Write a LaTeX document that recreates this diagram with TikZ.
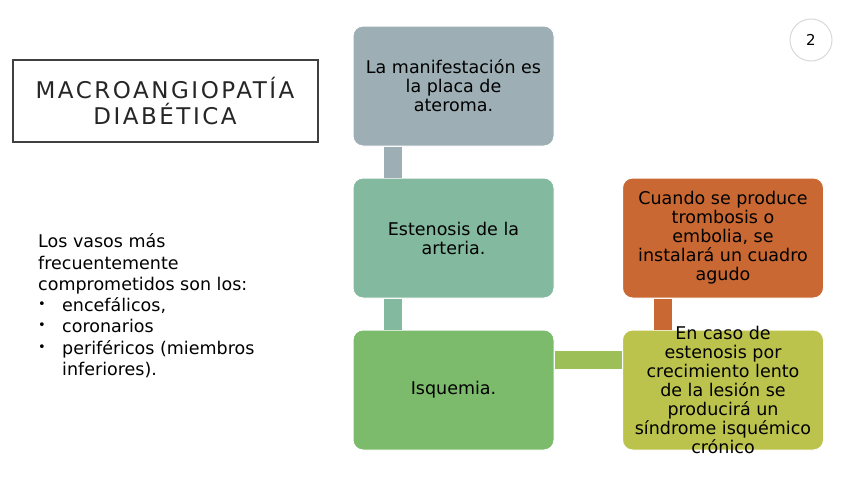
\documentclass[tikz,border=0pt]{standalone}
\usepackage{fontspec}
\setmainfont{DejaVu Sans}
\newfontfamily\titlefont[LetterSpace=11]{DejaVu Sans}
\usepackage{xcolor}
\usetikzlibrary{positioning,calc}
\definecolor{placagray}{HTML}{9DAFB5}
\definecolor{estenosisteal}{HTML}{83B99E}
\definecolor{isquemiagreen}{HTML}{7BBB6B}
\definecolor{cronicoolive}{HTML}{BCC34D}
\definecolor{agudoorange}{HTML}{C96832}
\definecolor{puentegreen}{HTML}{9DBF57}
\newcommand{\vasobullet}{\makebox[24pt][l]{\raisebox{3pt}{\fontsize{13}{13}\selectfont •}}}

\begin{document}
\begin{tikzpicture}[
  x=1pt,
  y=-1pt,
  stage/.style={rectangle,rounded corners=10pt,draw=white,line width=1pt,
    minimum width=201pt,minimum height=120pt,inner sep=0pt,align=center,
    font=\fontsize{17.5}{19}\selectfont},
  stagetxt/.style={inner sep=0pt,align=center,font=\fontsize{17.5}{19}\selectfont},
  link/.style={line width=18pt},
  bodytxt/.style={font=\fontsize{17.5}{21.3}\selectfont,align=left,inner sep=0pt}
]
  \useasboundingbox[fill=white] (0,0) rectangle (848,477);

  % title
  \node[draw=black!75,line width=2pt,minimum width=305pt,minimum height=82pt,
    align=center,font=\titlefont\fontsize{23}{26}\selectfont,text=black!85]
    (titulo) at (165,100.5) {MACROANGIOPATÍA\\DIABÉTICA};

  % page number
  \node[circle,draw=black!15,line width=1pt,minimum size=42pt,
    font=\fontsize{15}{18}\selectfont] (pagina) at (811,40) {2};

  % left text
  \node[bodytxt,anchor=north west] (vasos) at (38,233.5)
    {Los vasos más\\frecuentemente\\comprometidos son los:\\
     \vasobullet encefálicos,\\
     \vasobullet coronarios\\
     \vasobullet periféricos (miembros\\
     \hspace*{24pt}inferiores).};

  % stages
  \node[stage,fill=placagray] (placa) at (453.5,86)
    {La manifestación es\\la placa de\\ateroma.};
  \node[stage,fill=estenosisteal] (estenosis) at (453.5,238)
    {Estenosis de la\\arteria.};
  \node[stage,fill=isquemiagreen] (isquemia) at (453.5,390)
    {Isquemia.};
  \node[stage,fill=cronicoolive] (cronico) at (723,390) {};
  \node[stagetxt] (cronicotxt) at (cronico)
    {En caso de\\estenosis por\\crecimiento lento\\de la lesión se\\producirá un\\síndrome isquémico\\crónico};
  \node[stage,fill=agudoorange] (agudo) at (723,238)
    {Cuando se produce\\trombosis o\\embolia, se\\instalará un cuadro\\agudo};

  % links
  \draw[link,placagray] ([xshift=40pt]placa.south west) -- ([xshift=40pt]estenosis.north west);
  \draw[link,estenosisteal] ([xshift=40pt]estenosis.south west) -- ([xshift=40pt]isquemia.north west);
  \draw[link,puentegreen] ([yshift=30pt]isquemia.east) -- ([yshift=30pt]cronico.west);
  \draw[link,agudoorange] ([xshift=41pt]agudo.south west) -- ([xshift=41pt]cronico.north west);
\end{tikzpicture}
\end{document}
